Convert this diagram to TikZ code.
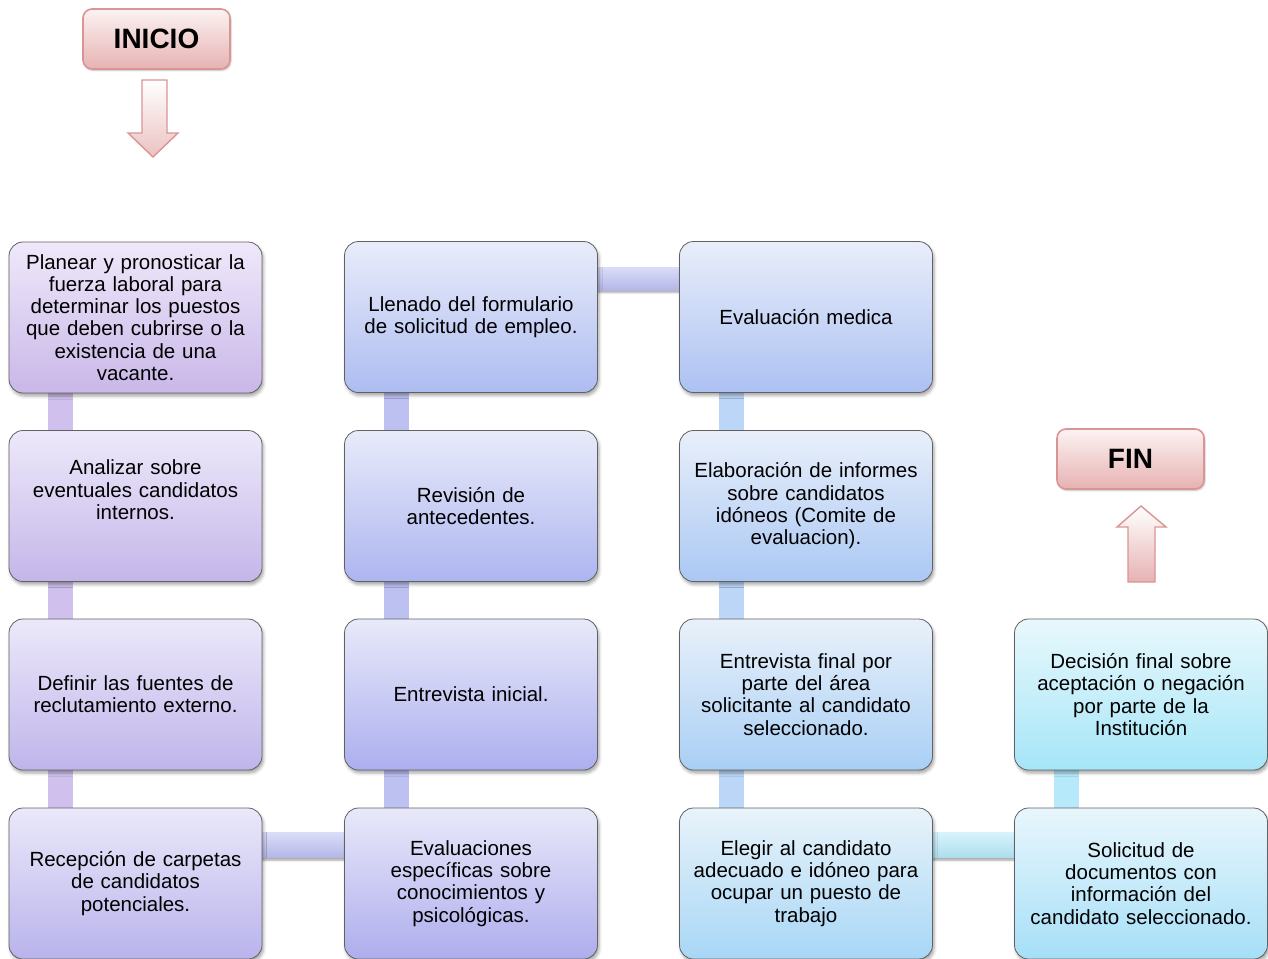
\documentclass[tikz,border=0pt]{standalone}
\usepackage{fontspec}
\setmainfont{Liberation Sans}
\usetikzlibrary{shadows.blur,backgrounds}

% hue/saturation/brightness colour, stored as rgb for pgf
\newcommand\hsbcolor[4]{\definecolor{hsbtmp}{Hsb}{#2,#3,#4}\colorlet{#1}[rgb]{hsbtmp}}
% step colours, from violet to cyan along the process
\hsbcolor{t0}{262}{0.07}{0.98}\hsbcolor{u0}{262}{0.21}{0.91}
\hsbcolor{t1}{257}{0.07}{0.98}\hsbcolor{u1}{257}{0.22}{0.915}
\hsbcolor{t2}{252}{0.07}{0.98}\hsbcolor{u2}{252}{0.23}{0.92}
\hsbcolor{t3}{246}{0.07}{0.98}\hsbcolor{u3}{246}{0.24}{0.925}
\hsbcolor{t4}{241}{0.07}{0.98}\hsbcolor{u4}{241}{0.27}{0.93}
\hsbcolor{t5}{237}{0.07}{0.98}\hsbcolor{u5}{237}{0.28}{0.935}
\hsbcolor{t6}{232}{0.07}{0.98}\hsbcolor{u6}{232}{0.28}{0.94}
\hsbcolor{t7}{227}{0.07}{0.98}\hsbcolor{u7}{227}{0.28}{0.945}
\hsbcolor{t8}{222}{0.07}{0.98}\hsbcolor{u8}{222}{0.29}{0.95}
\hsbcolor{t9}{216}{0.07}{0.98}\hsbcolor{u9}{216}{0.30}{0.955}
\hsbcolor{t10}{210}{0.07}{0.98}\hsbcolor{u10}{210}{0.31}{0.96}
\hsbcolor{t11}{204}{0.07}{0.98}\hsbcolor{u11}{204}{0.32}{0.965}
\hsbcolor{t12}{198}{0.08}{0.99}\hsbcolor{u12}{198}{0.33}{0.97}
\hsbcolor{t13}{193}{0.08}{0.99}\hsbcolor{u13}{193}{0.33}{0.97}
% connector bars
\hsbcolor{bar1}{260}{0.19}{0.93}
\hsbcolor{bar2}{236}{0.22}{0.95}
\hsbcolor{bar3}{214}{0.24}{0.97}
\hsbcolor{bar4}{195}{0.27}{0.98}
% start / end markers
\definecolor{pinkline}{RGB}{217,149,148}
\definecolor{pinktop}{RGB}{252,242,242}
\definecolor{pinkbot}{RGB}{231,178,178}

\begin{document}
\begin{tikzpicture}[x=1pt,y=-1pt,
  stepbox/.style={draw=black!62, line width=0.8pt, rounded corners=14pt,
    minimum width=253pt, minimum height=151pt, text width=245pt, align=center,
    font=\fontsize{20.5}{22.3}\selectfont,
    blur shadow={shadow xshift=1.5pt, shadow yshift=-3pt, shadow blur radius=3pt, shadow opacity=35}},
  shade/.style={top color=t#1, bottom color=u#1},
  endbox/.style={draw=pinkline, line width=1.6pt, rounded corners=9pt,
    minimum width=147pt, minimum height=60pt, top color=pinktop, bottom color=pinkbot,
    font=\fontsize{28}{30}\selectfont\bfseries,
    blur shadow={shadow xshift=1pt, shadow yshift=-1.5pt, shadow blur radius=1.5pt, shadow opacity=25}},
  endarrow/.style={draw=pinkline, line width=1.4pt, line join=miter},
  vbar/.style={fill=#1},
  hbar/.style={top color=#1!55!white, bottom color=#1!95!black,
    blur shadow={shadow xshift=0pt, shadow yshift=-2.5pt, shadow blur radius=2pt, shadow opacity=35}},
]
\useasboundingbox (0,0) rectangle (1268,958);

% column 1
\node[stepbox, shade=0] (b11) at (135.5,317.5) {Planear y pronosticar la\\fuerza laboral para\\determinar los puestos\\que deben cubrirse o la\\existencia de una\\vacante.};
\node[stepbox, shade=1] (b12) at (135.5,506) {Analizar sobre\\eventuales candidatos\\internos.\\[10pt]\mbox{}};
\node[stepbox, shade=2] (b13) at (135.5,694.5) {Definir las fuentes de\\reclutamiento externo.};
\node[stepbox, shade=3] (b14) at (135.5,883.5) {Recepción de carpetas\\de candidatos\\potenciales.};
% column 2
\node[stepbox, shade=4] (b24) at (471,883.5) {Evaluaciones\\específicas sobre\\conocimientos y\\psicológicas.};
\node[stepbox, shade=5] (b23) at (471,694.5) {Entrevista inicial.};
\node[stepbox, shade=6] (b22) at (471,506) {Revisión de\\antecedentes.};
\node[stepbox, shade=7] (b21) at (471,317) {Llenado del formulario\\de solicitud de empleo.};
% column 3
\node[stepbox, shade=8] (b31) at (806,317) {Evaluación medica};
\node[stepbox, shade=9] (b32) at (806,506) {Elaboración de informes\\sobre candidatos\\idóneos (Comite de\\evaluacion).};
\node[stepbox, shade=10] (b33) at (806,694.5) {Entrevista final por\\parte del área\\solicitante al candidato\\seleccionado.};
\node[stepbox, shade=11] (b34) at (806,883.5) {Elegir al candidato\\adecuado e idóneo para\\ocupar un puesto de\\trabajo};
% column 4
\node[stepbox, shade=12] (b44) at (1141,883.5) {Solicitud de\\documentos con\\información del\\candidato seleccionado.};
\node[stepbox, shade=13] (b43) at (1141,694.5) {Decisión final sobre\\aceptación o negación\\por parte de la\\Institución};

% start and end
\node[endbox] (inicio) at (156.5,39) {INICIO};
\node[endbox] (fin) at (1130.5,459) {FIN};

\path[endarrow, top color=white, bottom color=pinkbot!80!white]
  (142,80) -- (167,80) -- (167,133) -- (178,133) -- (153,157) -- (128,133) -- (142,133) -- cycle;
\path[endarrow, top color=white, bottom color=pinkbot]
  (1141,506) -- (1166,527) -- (1155,527) -- (1155,582) -- (1128,582) -- (1128,527) -- (1117,527) -- cycle;

% connector bars behind the steps
\begin{scope}[on background layer]
  \foreach \a/\b in {b11/b12, b12/b13, b13/b14}
    \fill[vbar=bar1] ([xshift=39.5pt]\a.west) rectangle ([xshift=64.5pt]\b.west);
  \foreach \a/\b in {b21/b22, b22/b23, b23/b24}
    \fill[vbar=bar2] ([xshift=39.5pt]\a.west) rectangle ([xshift=64.5pt]\b.west);
  \foreach \a/\b in {b31/b32, b32/b33, b33/b34}
    \fill[vbar=bar3] ([xshift=39.5pt]\a.west) rectangle ([xshift=64.5pt]\b.west);
  \fill[vbar=bar4] ([xshift=39.5pt]b43.west) rectangle ([xshift=64.5pt]b44.west);
  \path[hbar=bar2] ([yshift=-25pt]b14.north) rectangle ([yshift=-50pt]b24.north);
  \path[hbar=bar2] ([yshift=-26pt]b21.north) rectangle ([yshift=-49pt]b31.north);
  \path[hbar=bar4] ([yshift=-25pt]b34.north) rectangle ([yshift=-50pt]b44.north);
\end{scope}
\end{tikzpicture}
\end{document}
